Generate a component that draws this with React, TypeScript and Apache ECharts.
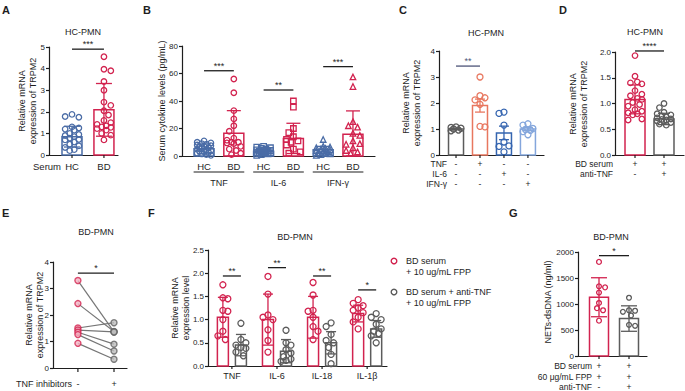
import React, { useEffect, useRef } from "react";
import * as echarts from "echarts";

// ================= DATA =================
// Panel A
const aGroups = ["HC", "BD"];
const aHC = [1.88, 1.78, 1.75, 1.3, 1.25, 1.2, 1.15, 1.0, 0.95, 0.9, 0.85, 0.78, 0.72, 0.7, 0.6, 0.5, 0.42, 0.35, 0.25, 0.2];
const aBD = [4.55, 3.97, 3.9, 3.4, 3.0, 2.45, 2.3, 2.05, 1.85, 1.6, 1.5, 1.42, 1.35, 1.3, 1.28, 1.22, 1.15, 1.0, 0.92, 0.7];
const aMeans = [0.85, 2.09];
const aSD = [0.48, 1.22];

// Panel B
const bGroups = ["HC", "BD", "HC", "BD", "HC", "BD"];
const bCytokines = ["TNF", "IL-6", "IFN-γ"];
const bHC_TNF = [11, 10, 9.5, 9, 8.5, 8, 7.5, 7, 6.5, 6, 5.5, 5, 4.5, 4, 3.5, 3, 2.5, 2, 1.5, 1, 0.5];
const bBD_TNF = [56, 46, 33, 27, 22, 18, 13, 11.5, 10, 10, 9.5, 9, 7, 5, 4, 2, 1];
const bHC_IL6 = [7, 6.5, 6, 5.5, 5, 4.5, 4, 4, 3.5, 3.5, 3, 3, 2.5, 2.5, 2, 2, 1.5, 1, 0.5];
const bBD_IL6 = [40, 35.5, 20, 17, 14, 12, 11, 10, 8, 5, 3, 2];
const bHC_IFN = [12, 7, 6.5, 6, 5.5, 5, 4.5, 4, 3.5, 3, 2.5, 2, 1.5, 1, 0.5];
const bBD_IFN = [57.5, 50.5, 25, 22, 21, 16.5, 15, 11, 9, 8.5, 6, 4, 3, 2];
const bMeans = [5.2, 16.5, 3.5, 12.8, 4.5, 15.8];
const bSD = [3.6, 16.5, 1.3, 11, 2.5, 17];

// Panel C
const cRows = ["TNF", "IL-6", "IFN-γ"];
const cSigns = [["-", "+", "-", "-"], ["-", "-", "+", "-"], ["-", "-", "-", "+"]];
const cCtrl = [1.08, 1.06, 1.03, 1.0, 0.96, 0.93];
const cTNF = [3.0, 2.28, 2.2, 2.12, 1.95, 1.1, 1.08];
const cIL6 = [1.65, 1.6, 1.15, 0.5, 0.35, 0.33, 0.12];
const cIFN = [1.2, 1.15, 1.02, 0.98, 0.95, 0.9, 0.78];
const cMeans = [1.0, 1.9, 0.85, 1.0];
const cSEM = [0.03, 0.25, 0.26, 0.06];

// Panel D
const dRows = ["BD serum", "anti-TNF"];
const dSigns = [["+", "+"], ["-", "+"]];
const dBD = [1.93, 1.53, 1.42, 1.4, 1.38, 1.25, 1.18, 1.15, 1.1, 1.08, 1.02, 0.98, 0.95, 0.88, 0.85, 0.82, 0.8, 0.78, 0.7, 0.68];
const dAnti = [1.0, 0.92, 0.83, 0.8, 0.78, 0.76, 0.74, 0.72, 0.7, 0.69, 0.68, 0.66, 0.65, 0.63, 0.6, 0.58];
const dMeans = [1.08, 0.7];
const dSD = [0.28, 0.11];

// Panel E
const eSigns = ["-", "+"];
const eBefore = [3.3, 2.43, 1.51, 1.43, 1.35, 1.26, 0.93];
const eAfter = [1.36, 1.38, 1.71, 1.36, 0.9, 0.64, 0.33];

// Panel F
const fGenes = ["TNF", "IL-6", "IL-18", "IL-1β"];
const fRed = [
  [1.75, 1.47, 1.45, 1.2, 1.18, 1.0, 0.75, 0.65, 0.57],
  [1.93, 1.55, 1.1, 1.05, 1.0, 0.78, 0.55, 0.3],
  [1.8, 1.53, 1.2, 1.18, 1.05, 0.85, 0.75, 0.57],
  [1.43, 1.35, 1.3, 1.25, 1.2, 1.15, 1.05, 0.95, 0.8],
];
const fGray = [
  [0.92, 0.57, 0.5, 0.45, 0.4, 0.38, 0.3, 0.22],
  [0.77, 0.5, 0.45, 0.35, 0.28, 0.2, 0.15, 0.12, 0.1],
  [0.93, 0.85, 0.68, 0.55, 0.5, 0.4, 0.25, 0.05],
  [1.13, 1.05, 1.0, 0.9, 0.8, 0.75, 0.7, 0.65, 0.5],
];
const fRedMeans = [1.05, 1.0, 1.05, 1.13];
const fRedSD = [0.43, 0.55, 0.45, 0.18];
const fGrayMeans = [0.45, 0.32, 0.5, 0.8];
const fGraySD = [0.23, 0.25, 0.24, 0.18];
const fSigY = [1.94, 2.12, 1.94, 1.64];
const fSigLabels = ["**", "**", "**", "*"];

// Panel G
const gRows = ["BD serum", "60 μg/mL FPP", "anti-TNF"];
const gSigns = [["+", "+"], ["+", "+"], ["-", "+"]];
const gBD = [1810, 1340, 1320, 1220, 1020, 920, 880, 680];
const gAnti = [1120, 880, 870, 850, 780, 600, 580];
const gMeans = [1130, 720];
const gSD = [375, 245];

// ================= STYLE / LAYOUT =================
const FONT = '"Liberation Sans", Arial, sans-serif';
const INK = "#1e1e1e";
const RED = "#d2234f";
const BLUE = "#4a6ca6";
const GRAY = "#5c5c5c";
const SALMON = "#e8775f";
const MBLUE = "#3565b0";
const LBLUE = "#84a6dc";

type Lay = { left: number; top: number; right: number; bottom: number; xMin: number; xMax: number; yMax: number; yInterval: number; dec: number };
const LAY: Record<string, Lay> = {
  A: { left: 49, top: 47, right: 118, bottom: 155, xMin: -0.72, xMax: 1.44, yMax: 5, yInterval: 1, dec: 0 },
  B: { left: 182, top: 46, right: 375, bottom: 156, xMin: -0.74, xMax: 5.74, yMax: 80, yInterval: 20, dec: 0 },
  C: { left: 439, top: 51, right: 544, bottom: 155, xMin: -0.71, xMax: 3.67, yMax: 4, yInterval: 1, dec: 0 },
  D: { left: 615, top: 52, right: 684, bottom: 155, xMin: -0.69, xMax: 1.69, yMax: 2, yInterval: 0.5, dec: 1 },
  E: { left: 53, top: 262, right: 127, bottom: 368, xMin: -0.69, xMax: 1.36, yMax: 4, yInterval: 1, dec: 0 },
  F: { left: 208, top: 250, right: 387, bottom: 366, xMin: -0.53, xMax: 3.44, yMax: 2.5, yInterval: 0.5, dec: 1 },
  G: { left: 578, top: 252, right: 647, bottom: 356, xMin: -0.7, xMax: 1.6, yMax: 2000, yInterval: 500, dec: 0 },
};

function swarmPx(values: number[], pxPerY: number, r: number, half: number): number[] {
  const idx = values.map((_, i) => i).sort((a, b) => values[b] - values[a]);
  const placed: [number, number][] = [];
  const out = new Array(values.length).fill(0);
  const step = r * 0.75;
  const cands: number[] = [0];
  for (let k = 1; k * step <= half + 1e-6; k++) cands.push(k * step, -k * step);
  idx.forEach((i, n) => {
    const y = values[i] * pxPerY;
    let best = 0;
    let bestD = -1;
    const list = n % 2 ? cands.map((c) => -c) : cands;
    for (const c of list) {
      let d = Infinity;
      for (const [px, py] of placed) d = Math.min(d, Math.hypot(px - c, py - y));
      if (d >= 2 * r) { best = c; break; }
      if (d > bestD) { bestD = d; best = c; }
    }
    placed.push([best, y]);
    out[i] = best;
  });
  return out;
}

function txtStyle(text: string, size: number, color: string, align: string, va: string, bold = false, lh?: number) {
  const s: any = {
    text, fill: color, fontSize: size, fontFamily: FONT, fontWeight: bold ? "bold" : "normal",
    align, verticalAlign: va, textAlign: align, textVerticalAlign: va,
  };
  if (lh) s.lineHeight = lh;
  return s;
}

function buildOption() {
  const grids: any[] = [];
  const xAxes: any[] = [];
  const yAxes: any[] = [];
  const series: any[] = [];
  const gi: Record<string, number> = {};

  Object.keys(LAY).forEach((k) => {
    const l = LAY[k];
    const i = grids.length;
    gi[k] = i;
    grids.push({ left: l.left, top: l.top, width: l.right - l.left, height: l.bottom - l.top, containLabel: false });
    xAxes.push({
      gridIndex: i, type: "value", min: l.xMin, max: l.xMax,
      axisLine: { show: true, onZero: false, lineStyle: { color: INK, width: 1.2 } },
      axisTick: { show: false }, axisLabel: { show: false }, splitLine: { show: false },
    });
    yAxes.push({
      gridIndex: i, type: "value", min: 0, max: l.yMax, interval: l.yInterval,
      axisLine: { show: true, onZero: false, lineStyle: { color: INK, width: 1.2 } },
      axisTick: { show: true, length: 3, lineStyle: { color: INK, width: 1.2 } },
      axisLabel: { fontSize: 8, color: INK, fontFamily: FONT, margin: 4, formatter: (v: number) => v.toFixed(l.dec) },
      splitLine: { show: false },
    });
  });

  const pxY = (k: string) => (LAY[k].bottom - LAY[k].top) / LAY[k].yMax;
  const pxX = (k: string) => (LAY[k].right - LAY[k].left) / (LAY[k].xMax - LAY[k].xMin);

  const bars = (k: string, xs: number[], means: number[], errs: number[], colors: string[], w: number, cap: number) => {
    series.push({
      type: "custom", xAxisIndex: gi[k], yAxisIndex: gi[k], z: 2, silent: true, clip: false,
      data: xs.map((x, i) => [x, means[i], errs[i]]),
      renderItem: (params: any, api: any) => {
        const c = colors[params.dataIndex];
        const x = api.value(0), m = api.value(1), e = api.value(2);
        const top = api.coord([x, m]);
        const base = api.coord([x, 0]);
        const hi = api.coord([x, m + e]);
        const lo = api.coord([x, Math.max(0, m - e)]);
        const ls = { stroke: c, lineWidth: 1.3, fill: "none" };
        return {
          type: "group",
          children: [
            { type: "rect", shape: { x: top[0] - w / 2, y: top[1], width: w, height: base[1] - top[1] }, style: { fill: "none", stroke: c, lineWidth: 1.5 } },
            { type: "line", shape: { x1: hi[0], y1: hi[1], x2: lo[0], y2: lo[1] }, style: ls },
            { type: "line", shape: { x1: hi[0] - cap, y1: hi[1], x2: hi[0] + cap, y2: hi[1] }, style: ls },
            { type: "line", shape: { x1: lo[0] - cap, y1: lo[1], x2: lo[0] + cap, y2: lo[1] }, style: ls },
          ],
        };
      },
    });
  };

  const points = (k: string, x: number, values: number[], color: string, symbol: string, size: number, half: number, fill = "rgba(255,255,255,0)") => {
    const offs = swarmPx(values, pxY(k), size / 2 + 0.3, half);
    const sx = pxX(k);
    series.push({
      type: "scatter", xAxisIndex: gi[k], yAxisIndex: gi[k], z: 3, silent: true, symbol, symbolSize: size,
      itemStyle: { color: fill, borderColor: color, borderWidth: 1.3, opacity: 1 },
      data: values.map((v, i) => [x + offs[i] / sx, v]),
    });
  };

  const sig = (k: string, items: { x1: number; x2: number; y: number; label: string }[], color = INK) => {
    series.push({
      type: "custom", xAxisIndex: gi[k], yAxisIndex: gi[k], z: 4, silent: true, clip: false,
      data: items.map((s) => [s.x1, s.y, s.x2]),
      renderItem: (params: any, api: any) => {
        const s = items[params.dataIndex];
        const p1 = api.coord([api.value(0), api.value(1)]);
        const p2 = api.coord([api.value(2), api.value(1)]);
        return {
          type: "group",
          children: [
            { type: "line", shape: { x1: p1[0], y1: p1[1], x2: p2[0], y2: p2[1] }, style: { stroke: color, lineWidth: 1.3 } },
            { type: "text", x: (p1[0] + p2[0]) / 2, y: p1[1] - 0.5, style: txtStyle(s.label, 9, color, "center", "bottom") },
          ],
        };
      },
    });
  };

  // labels under the x axis: text at data x, dy px below the axis; tick optional
  const xlabels = (k: string, items: { x: number; text: string; dy: number; tick?: number; size?: number }[]) => {
    series.push({
      type: "custom", xAxisIndex: gi[k], yAxisIndex: gi[k], z: 4, silent: true, clip: false,
      data: items.map((it) => [it.x, 0]),
      renderItem: (params: any, api: any) => {
        const it = items[params.dataIndex];
        const p = api.coord([api.value(0), 0]);
        const ch: any[] = [{ type: "text", x: p[0], y: p[1] + it.dy, style: txtStyle(it.text, it.size || 9, INK, "center", "middle") }];
        if (it.tick) ch.push({ type: "line", shape: { x1: p[0], y1: p[1], x2: p[0], y2: p[1] + it.tick }, style: { stroke: INK, lineWidth: 1.2 } });
        return { type: "group", children: ch };
      },
    });
  };

  const underline = (k: string, items: { x1: number; x2: number; dy: number }[]) => {
    series.push({
      type: "custom", xAxisIndex: gi[k], yAxisIndex: gi[k], z: 4, silent: true, clip: false,
      data: items.map((it) => [it.x1, 0, it.x2]),
      renderItem: (params: any, api: any) => {
        const it = items[params.dataIndex];
        const p1 = api.coord([api.value(0), 0]);
        const p2 = api.coord([api.value(2), 0]);
        return { type: "line", shape: { x1: p1[0], y1: p1[1] + it.dy, x2: p2[0], y2: p2[1] + it.dy }, style: { stroke: INK, lineWidth: 1.2 } };
      },
    });
  };

  // ---------- Panel A ----------
  bars("A", [0, 1], aMeans, aSD, [BLUE, RED], 20, 8);
  points("A", 0, aHC, BLUE, "circle", 5.5, 9);
  points("A", 1, aBD, RED, "circle", 5.5, 9);
  sig("A", [{ x1: 0, x2: 1, y: 4.9, label: "***" }]);
  xlabels("A", aGroups.map((g, i) => ({ x: i, text: g, dy: 11, tick: 3, size: 9.5 })));

  // ---------- Panel B ----------
  const bCols = [BLUE, RED, BLUE, RED, BLUE, RED];
  bars("B", [0, 1, 2, 3, 4, 5], bMeans, bSD, bCols, 20, 7);
  const bSets = [bHC_TNF, bBD_TNF, bHC_IL6, bBD_IL6, bHC_IFN, bBD_IFN];
  const bSyms = ["circle", "circle", "rect", "rect", "triangle", "triangle"];
  bSets.forEach((vals, i) => points("B", i, vals, bCols[i], bSyms[i], 5.5, 9));
  sig("B", [
    { x1: 0, x2: 1, y: 62, label: "***" },
    { x1: 2, x2: 3, y: 48, label: "**" },
    { x1: 4, x2: 5, y: 65, label: "***" },
  ]);
  xlabels("B", bGroups.map((g, i) => ({ x: i, text: g, dy: 10, size: 9.5 })));
  underline("B", bCytokines.map((_, j) => ({ x1: 2 * j + 0.5 - 0.85, x2: 2 * j + 0.5 + 0.85, dy: 16 })));
  xlabels("B", bCytokines.map((c, j) => ({ x: 2 * j + 0.5, text: c, dy: 27, size: 9 })));

  // ---------- Panel C ----------
  const cCols = [GRAY, SALMON, MBLUE, LBLUE];
  bars("C", [0, 1, 2, 3], cMeans, cSEM, cCols, 15, 5);
  [cCtrl, cTNF, cIL6, cIFN].forEach((vals, i) => points("C", i, vals, cCols[i], "circle", 6, 7));
  sig("C", [{ x1: 0, x2: 1, y: 3.42, label: "**" }], "#4d5478");
  const cItems: any[] = [];
  cSigns.forEach((row, r) => row.forEach((s, j) => cItems.push({ x: j, text: s, dy: 9 + 10 * r, tick: r === 0 ? 3 : 0, size: 8.5 })));
  xlabels("C", cItems);

  // ---------- Panel D ----------
  bars("D", [0, 1], dMeans, dSD, [RED, GRAY], 20, 6);
  points("D", 0, dBD, RED, "circle", 5.5, 9);
  points("D", 1, dAnti, GRAY, "circle", 5.5, 9);
  sig("D", [{ x1: 0, x2: 1, y: 2.02, label: "****" }]);
  const dItems: any[] = [];
  dSigns.forEach((row, r) => row.forEach((s, j) => dItems.push({ x: j, text: s, dy: 9 + 10 * r, tick: r === 0 ? 3 : 0, size: 8.5 })));
  xlabels("D", dItems);

  // ---------- Panel E ----------
  series.push({
    type: "custom", xAxisIndex: gi.E, yAxisIndex: gi.E, z: 2, silent: true, clip: false,
    data: eBefore.map((b, i) => [b, eAfter[i]]),
    renderItem: (_p: any, api: any) => {
      const p1 = api.coord([0, api.value(0)]);
      const p2 = api.coord([1, api.value(1)]);
      return { type: "line", shape: { x1: p1[0], y1: p1[1], x2: p2[0], y2: p2[1] }, style: { stroke: "#767676", lineWidth: 1.2 } };
    },
  });
  series.push({
    type: "scatter", xAxisIndex: gi.E, yAxisIndex: gi.E, z: 3, silent: true, symbol: "circle", symbolSize: 6,
    itemStyle: { color: "#f4b3c3", borderColor: RED, borderWidth: 1.4 },
    data: eBefore.map((v) => [0, v]),
  });
  series.push({
    type: "scatter", xAxisIndex: gi.E, yAxisIndex: gi.E, z: 3, silent: true, symbol: "circle", symbolSize: 6,
    itemStyle: { color: "#bdbdbd", borderColor: "#606060", borderWidth: 1.4 },
    data: eAfter.map((v) => [1, v]),
  });
  sig("E", [{ x1: 0, x2: 1, y: 3.58, label: "*" }]);
  xlabels("E", eSigns.map((s, j) => ({ x: j, text: s, dy: 16, tick: 4 })));

  // ---------- Panel F ----------
  const fx = fGenes.map((_, g) => g);
  bars("F", fx.map((g) => g - 0.2), fRedMeans, fRedSD, fGenes.map(() => RED), 11, 5);
  bars("F", fx.map((g) => g + 0.2), fGrayMeans, fGraySD, fGenes.map(() => GRAY), 11, 5);
  fRed.forEach((vals, g) => points("F", g - 0.2, vals, RED, "circle", 6, 5));
  fGray.forEach((vals, g) => points("F", g + 0.2, vals, GRAY, "circle", 6, 5));
  sig("F", fGenes.map((_, g) => ({ x1: g - 0.2, x2: g + 0.2, y: fSigY[g], label: fSigLabels[g] })));
  xlabels("F", fGenes.map((t, g) => ({ x: g, text: t, dy: 10, tick: 3, size: 9 })));

  // ---------- Panel G ----------
  bars("G", [0, 1], gMeans, gSD, [RED, GRAY], 19, 8);
  points("G", 0, gBD, RED, "circle", 4.8, 8);
  points("G", 1, gAnti, GRAY, "circle", 4.8, 8);
  sig("G", [{ x1: 0, x2: 1, y: 1930, label: "*" }]);
  const gItems: any[] = [];
  gSigns.forEach((row, r) => row.forEach((s, j) => gItems.push({ x: j, text: s, dy: 10 + 10.5 * r, tick: r === 0 ? 3 : 0, size: 8.5 })));
  xlabels("G", gItems);

  // ---------- free texts ----------
  const T = (text: string, x: number, y: number, o: any = {}) => ({
    type: "text", x, y, rotation: o.rot || 0, silent: true, z: 10,
    style: txtStyle(text, o.size || 9, o.color || INK, o.align || "center", o.va || "middle", !!o.bold, o.lh),
  });
  const ROT = Math.PI / 2;
  const YN = "Relative mRNA\nexpression of TRPM2";
  const graphic: any[] = [
    T("A", 2, 4, { bold: true, size: 11, align: "left", va: "top" }),
    T("B", 143, 4, { bold: true, size: 11, align: "left", va: "top" }),
    T("C", 399, 4, { bold: true, size: 11, align: "left", va: "top" }),
    T("D", 559, 4, { bold: true, size: 11, align: "left", va: "top" }),
    T("E", 2, 207, { bold: true, size: 11, align: "left", va: "top" }),
    T("F", 148, 207, { bold: true, size: 11, align: "left", va: "top" }),
    T("G", 509, 207, { bold: true, size: 11, align: "left", va: "top" }),

    T("HC-PMN", 83, 32, { size: 9 }),
    T("HC-PMN", 486, 33, { size: 9 }),
    T("HC-PMN", 645, 32, { size: 9 }),
    T("BD-PMN", 96, 232, { size: 9 }),
    T("BD-PMN", 295, 237, { size: 9 }),
    T("BD-PMN", 611, 237, { size: 9 }),

    T(YN, 27, 101, { rot: ROT, lh: 11 }),
    T("Serum cytokine levels (pg/mL)", 162, 101, { rot: ROT }),
    T(YN, 411, 103, { rot: ROT, lh: 11 }),
    T(YN, 578, 104, { rot: ROT, lh: 11 }),
    T(YN, 34, 315, { rot: ROT, lh: 11 }),
    T("Relative mRNA\nexpression level", 180, 308, { rot: ROT, lh: 11 }),
    T("NETs-dsDNA (ng/ml)", 548, 302, { rot: ROT }),

    T("Serum", 61, 166, { align: "right", size: 9.5 }),
    T("TNF inhibitors", 72, 384, { align: "right" }),
    ...cRows.map((r, i) => T(r, 447, 164 + 10 * i, { align: "right", size: 8.5 })),
    ...dRows.map((r, i) => T(r, 613, 164 + 10 * i, { align: "right", size: 8.5 })),
    ...gRows.map((r, i) => T(r, 592, 366 + 10.5 * i, { align: "right", size: 8.5 })),

    { type: "circle", shape: { cx: 394, cy: 261, r: 2.8 }, style: { fill: "none", stroke: RED, lineWidth: 1.4 }, silent: true },
    T("BD serum", 406, 261, { align: "left" }),
    T("+ 10 ug/mL FPP", 406, 272, { align: "left" }),
    { type: "circle", shape: { cx: 394, cy: 292, r: 2.8 }, style: { fill: "none", stroke: GRAY, lineWidth: 1.4 }, silent: true },
    T("BD serum + anti-TNF", 406, 292, { align: "left" }),
    T("+ 10 ug/mL FPP", 406, 303, { align: "left" }),
  ];

  return {
    animation: false,
    backgroundColor: "#ffffff",
    textStyle: { fontFamily: FONT },
    grid: grids,
    xAxis: xAxes,
    yAxis: yAxes,
    series,
    graphic,
  };
}

export default function App() {
  const ref = useRef<HTMLDivElement>(null);
  useEffect(() => {
    const chart = echarts.init(ref.current as HTMLDivElement, null, { renderer: "svg" });
    chart.setOption(buildOption() as any);
    return () => chart.dispose();
  }, []);
  return <div ref={ref} style={{ position: "fixed", left: 0, top: 0, width: 685, height: 391, background: "#fff" }} />;
}
